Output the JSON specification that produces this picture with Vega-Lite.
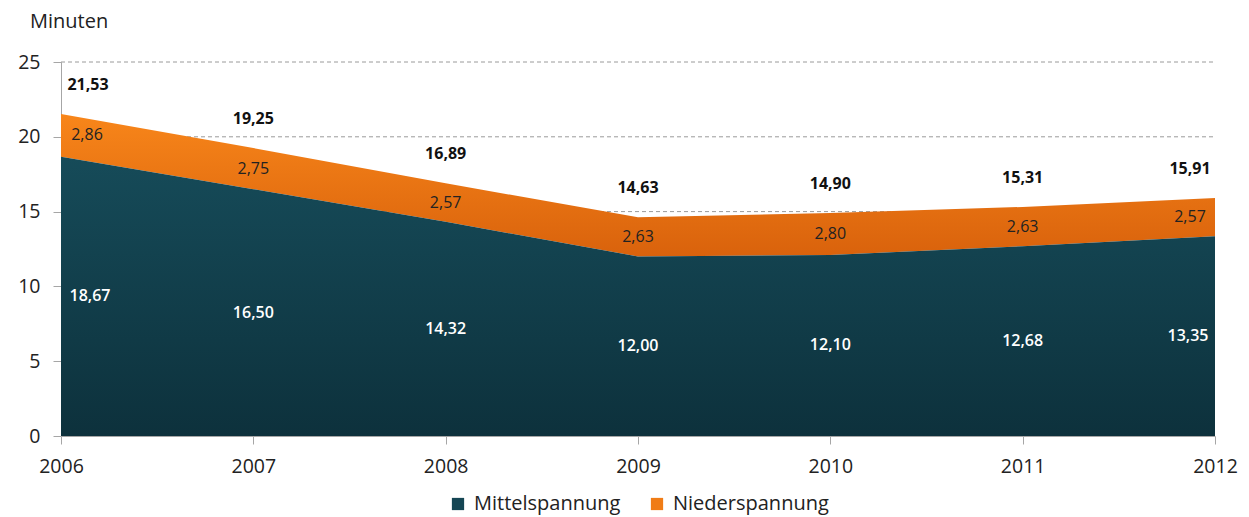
{
  "$schema": "https://vega.github.io/schema/vega-lite/v6.json",
  "width": 1154,
  "height": 374,
  "autosize": {"type": "none"},
  "padding": {"left": 61, "top": 62, "right": 34, "bottom": 81},
  "background": "white",
  "config": {
    "view": {"stroke": null},
    "font": "Open Sans",
    "locale": {"number": {"decimal": ",", "thousands": ".", "grouping": [3], "currency": ["", " €"]}}
  },
  "title": {"text": "Minuten", "anchor": "start", "frame": "group", "dx": -31, "offset": 20, "fontSize": 20, "fontWeight": "normal", "color": "#222", "font": "Open Sans"},
  "data": {"values": [
    {"year": 2006, "mittel": 18.67, "nieder": 2.86, "total": 21.53},
    {"year": 2007, "mittel": 16.50, "nieder": 2.75, "total": 19.25},
    {"year": 2008, "mittel": 14.32, "nieder": 2.57, "total": 16.89},
    {"year": 2009, "mittel": 12.00, "nieder": 2.63, "total": 14.63},
    {"year": 2010, "mittel": 12.10, "nieder": 2.80, "total": 14.90},
    {"year": 2011, "mittel": 12.68, "nieder": 2.63, "total": 15.31},
    {"year": 2012, "mittel": 13.35, "nieder": 2.57, "total": 15.91}
  ]},
  "encoding": {
    "x": {"field": "year", "type": "quantitative", "scale": {"domain": [2006, 2012], "nice": false, "zero": false},
      "axis": {"values": [2006, 2007, 2008, 2009, 2010, 2011, 2012], "format": "d", "title": null, "grid": false,
        "domainColor": "#a6a6a6", "tickColor": "#a6a6a6", "tickSize": 8, "labelPadding": 13, "labelFontSize": 19.5,
        "labelColor": "#222", "labelFont": "Open Sans", "labelFlush": false}}
  },
  "layer": [
    {
      "mark": {"type": "rule", "strokeDash": [4, 3], "color": "#9a9a9a", "strokeWidth": 1},
      "data": {"values": [{"g": 5}, {"g": 10}, {"g": 15}, {"g": 20}, {"g": 25}]},
      "encoding": {"y": {"field": "g", "type": "quantitative", "scale": {"domain": [0, 25]}}, "x": {"value": 0}, "x2": {"value": 1154}}
    },
    {
      "mark": {"type": "area", "fill": {"gradient": "linear", "x1": 0, "y1": 0, "x2": 0, "y2": 1,
        "stops": [{"offset": 0, "color": "#f8861a"}, {"offset": 1, "color": "#d9620c"}]}},
      "encoding": {
        "y": {"field": "total", "type": "quantitative", "scale": {"domain": [0, 25], "nice": false},
          "axis": {"values": [0, 5, 10, 15, 20, 25], "title": null, "grid": false, "domainColor": "#a6a6a6", "tickColor": "#a6a6a6",
            "tickSize": 8, "labelPadding": 13, "labelFontSize": 19.5, "labelColor": "#222", "labelFont": "Open Sans"}},
        "y2": {"field": "mittel"}
      }
    },
    {
      "mark": {"type": "area", "fill": {"gradient": "linear", "x1": 0, "y1": 0, "x2": 0, "y2": 1,
        "stops": [{"offset": 0, "color": "#164b59"}, {"offset": 1, "color": "#0d313c"}]}},
      "encoding": {"y": {"field": "mittel", "type": "quantitative"}, "y2": {"datum": 0}}
    },
    {
      "data": {"values": [{"s": "Mittelspannung"}, {"s": "Niederspannung"}]},
      "mark": {"type": "point", "opacity": 0, "filled": true},
      "encoding": {
        "x": {"datum": 2009},
        "y": {"datum": 0},
        "color": {"field": "s", "type": "nominal", "scale": {"domain": ["Mittelspannung", "Niederspannung"], "range": ["#154654", "#f07c16"]},
          "legend": {"title": null, "orient": "none", "legendX": 387, "legendY": 432, "direction": "horizontal", "symbolType": "square", "symbolOpacity": 1,
            "symbolSize": 150, "labelFontSize": 20, "labelColor": "#222", "labelFont": "Open Sans", "columnPadding": 26, "symbolStrokeWidth": 0, "labelOffset": 6}}
      }
    },
    {
      "transform": [{"filter": "datum.year > 2006 && datum.year < 2012"}],
      "layer": [
        {"mark": {"type": "text", "fontSize": 16, "fontWeight": "bold", "color": "#111", "dy": -29},
          "encoding": {"y": {"field": "total", "type": "quantitative"}, "text": {"field": "total", "format": ".2f"}}},
        {"transform": [{"calculate": "(datum.total + datum.mittel) / 2", "as": "nmid"}],
          "mark": {"type": "text", "fontSize": 16, "color": "#222"},
          "encoding": {"y": {"field": "nmid", "type": "quantitative"}, "text": {"field": "nieder", "format": ".2f"}}},
        {"transform": [{"calculate": "datum.mittel / 2", "as": "mmid"}],
          "mark": {"type": "text", "fontSize": 16, "color": "white", "fontWeight": 600},
          "encoding": {"y": {"field": "mmid", "type": "quantitative"}, "text": {"field": "mittel", "format": ".2f"}}}
      ]
    },
    {
      "transform": [{"filter": "datum.year == 2006"}],
      "layer": [
        {"mark": {"type": "text", "fontSize": 16, "fontWeight": "bold", "color": "#111", "dy": -29, "dx": 27},
          "encoding": {"y": {"field": "total", "type": "quantitative"}, "text": {"field": "total", "format": ".2f"}}},
        {"transform": [{"calculate": "(datum.total + datum.mittel) / 2", "as": "nmid"}],
          "mark": {"type": "text", "fontSize": 16, "color": "#222", "dx": 26},
          "encoding": {"y": {"field": "nmid", "type": "quantitative"}, "text": {"field": "nieder", "format": ".2f"}}},
        {"transform": [{"calculate": "datum.mittel / 2", "as": "mmid"}],
          "mark": {"type": "text", "fontSize": 16, "color": "white", "fontWeight": 600, "dx": 29},
          "encoding": {"y": {"field": "mmid", "type": "quantitative"}, "text": {"field": "mittel", "format": ".2f"}}}
      ]
    },
    {
      "transform": [{"filter": "datum.year == 2012"}],
      "layer": [
        {"mark": {"type": "text", "fontSize": 16, "fontWeight": "bold", "color": "#111", "dy": -29, "dx": -25},
          "encoding": {"y": {"field": "total", "type": "quantitative"}, "text": {"field": "total", "format": ".2f"}}},
        {"transform": [{"calculate": "(datum.total + datum.mittel) / 2", "as": "nmid"}],
          "mark": {"type": "text", "fontSize": 16, "color": "#222", "dx": -25},
          "encoding": {"y": {"field": "nmid", "type": "quantitative"}, "text": {"field": "nieder", "format": ".2f"}}},
        {"transform": [{"calculate": "datum.mittel / 2", "as": "mmid"}],
          "mark": {"type": "text", "fontSize": 16, "color": "white", "fontWeight": 600, "dx": -27},
          "encoding": {"y": {"field": "mmid", "type": "quantitative"}, "text": {"field": "mittel", "format": ".2f"}}}
      ]
    }
  ]
}
